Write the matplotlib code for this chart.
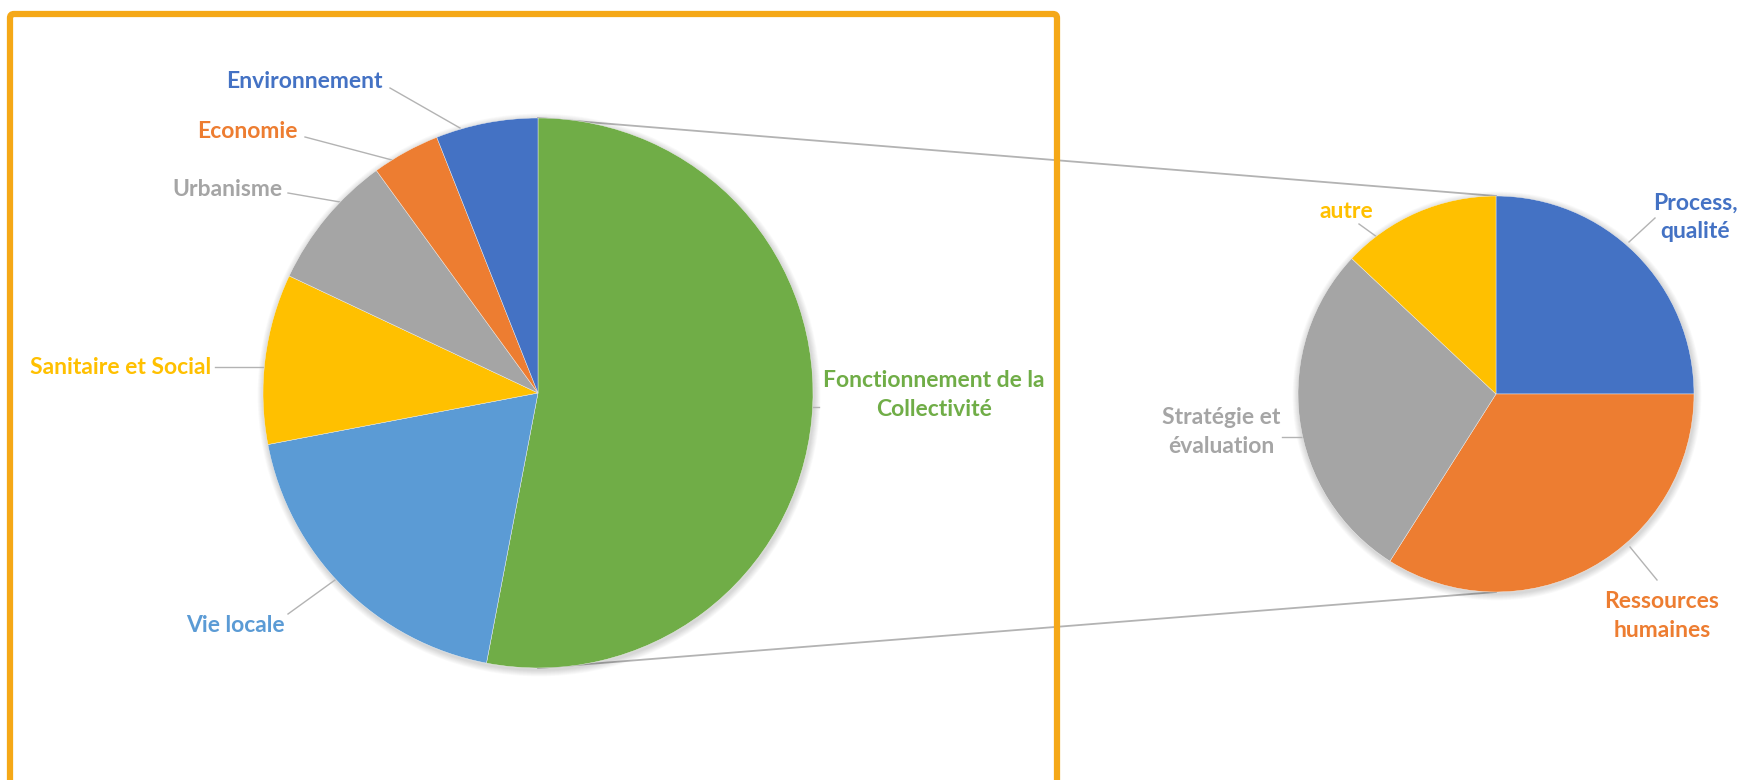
import matplotlib.pyplot as plt
import matplotlib.patches as mpatches

# === Data ===
MAIN_LABELS = ["Fonctionnement de la\nCollectivité", "Vie locale", "Sanitaire et Social",
               "Urbanisme", "Economie", "Environnement"]
MAIN_VALUES = [53, 19, 10, 8, 4, 6]
MAIN_COLORS = ["#70AD47", "#5B9BD5", "#FFC000", "#A5A5A5", "#ED7D31", "#4472C4"]

SUB_LABELS = ["Process,\nqualité", "Ressources\nhumaines", "Stratégie et\névaluation", "autre"]
SUB_VALUES = [25, 34, 28, 13]
SUB_COLORS = ["#4472C4", "#ED7D31", "#A5A5A5", "#FFC000"]

W, H = 1737, 780


def fy(y):
    """pixel y (top-down) -> data y (bottom-up)"""
    return H - y


# layout (pixel coords)
MAIN_C, MAIN_R = (538, 393), 275
SUB_C, SUB_R = (1496, 394), 198

MAIN_TEXT = [(934, 395, "center"), (235, 626, "center"), (211, 367, "right"),
             (283, 189, "right"), (298, 132, "right"), (383, 81, "right")]
MAIN_LEADERS = [((813, 407), (819, 407)), ((288, 614), (335, 580)), ((215, 367), (265, 367)),
                ((288, 193), (340, 202)), ((305, 137), (392, 160)), ((390, 88), (460, 128))]
SUB_TEXT = [(1695, 217, "center"), (1662, 616, "center"), (1221, 432, "center"),
            (1346, 212, "center")]
SUB_LEADERS = [((1629, 242), (1655, 218)), ((1630, 547), (1657, 580)),
               ((1282, 437), (1305, 437)), ((1359, 224), (1377, 237))]

LINE_GRAY = "#B3B3B3"

fig = plt.figure(figsize=(W / 100, H / 100), dpi=100)
ax = fig.add_axes([0, 0, 1, 1])


def shadow(center, r):
    for i in range(1, 9):
        ax.add_patch(mpatches.Circle((center[0] + 1, fy(center[1]) - 2), r + i * 0.8,
                                     facecolor="black", edgecolor="none",
                                     alpha=0.018, zorder=1))


# connector lines
for ya, yb in [(MAIN_C[1] - MAIN_R, SUB_C[1] - SUB_R), (MAIN_C[1] + MAIN_R, SUB_C[1] + SUB_R)]:
    ax.plot([MAIN_C[0], SUB_C[0]], [fy(ya), fy(yb)], color=LINE_GRAY, lw=1.3, zorder=0.5)

shadow(MAIN_C, MAIN_R)
shadow(SUB_C, SUB_R)

ax.pie(MAIN_VALUES, colors=MAIN_COLORS, startangle=90, counterclock=False,
       center=(MAIN_C[0], fy(MAIN_C[1])), radius=MAIN_R, frame=True,
       wedgeprops=dict(linewidth=0.3, edgecolor="#F2F2F2", zorder=2))
ax.pie(SUB_VALUES, colors=SUB_COLORS, startangle=90, counterclock=False,
       center=(SUB_C[0], fy(SUB_C[1])), radius=SUB_R, frame=True,
       wedgeprops=dict(linewidth=0.3, edgecolor="#F2F2F2", zorder=2))

font = dict(family="Lato", fontsize=16.5, fontweight="bold")

for lab, col, (x, y, ha), (p0, p1) in zip(MAIN_LABELS, MAIN_COLORS, MAIN_TEXT, MAIN_LEADERS):
    ax.text(x, fy(y), lab, color=col, ha=ha, va="center", linespacing=1.42, zorder=5, **font)
    ax.plot([p0[0], p1[0]], [fy(p0[1]), fy(p1[1])], color=LINE_GRAY, lw=1.0, zorder=1.5)

for lab, col, (x, y, ha), (p0, p1) in zip(SUB_LABELS, SUB_COLORS, SUB_TEXT, SUB_LEADERS):
    ax.text(x, fy(y), lab, color=col, ha=ha, va="center", linespacing=1.42, zorder=5, **font)
    ax.plot([p0[0], p1[0]], [fy(p0[1]), fy(p1[1])], color=LINE_GRAY, lw=1.0, zorder=1.5)

# orange highlight frame
ax.add_patch(mpatches.FancyBboxPatch((10, fy(800)), 1047, 786,
                                     boxstyle="round,pad=0,rounding_size=4",
                                     facecolor="none", edgecolor="#F5A817", lw=4.5, zorder=6))

ax.set_xlim(0, W)
ax.set_ylim(0, H)
ax.set_aspect("equal")
ax.axis("off")

fig.savefig("out.png", dpi=100, facecolor="white")
